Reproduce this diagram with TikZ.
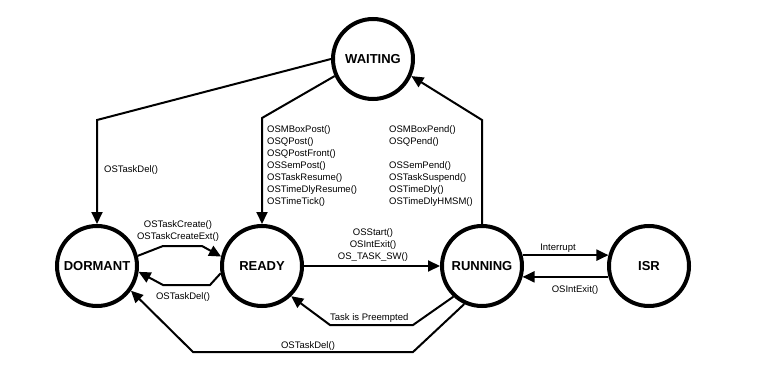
\documentclass[tikz,border=0pt]{standalone}
\usepackage{fontspec}
\setmainfont{Liberation Sans}
\usetikzlibrary{arrows.meta, positioning}

\begin{document}
\begin{tikzpicture}[
    x=1pt, y=-1pt,
    node distance=81pt and 81pt,
    keadaan/.style={draw, circle, line width=4pt, minimum size=80pt, inner sep=0pt,
                    font=\fontsize{13}{15}\selectfont\bfseries},
    panah/.style={-{Triangle[length=12pt, width=11pt]}, line width=2pt},
    teks/.style={inner sep=0pt, align=left, font=\fontsize{9.5}{12}\selectfont}
  ]
    \useasboundingbox (0,0) rectangle (773,366);
    \node[keadaan] (dormant) at (97,266) {DORMANT};
    \node[keadaan, right=of dormant] (ready) {READY};
    \node[keadaan, right=136pt of ready] (running) {RUNNING};
    \node[keadaan, right=83pt of running] (isr) {ISR};
    \node[keadaan] (waiting) at (373,59) {WAITING};
    % label
    \node[teks, anchor=west] (delw) at (104,170) {OSTaskDel()};
    \node[teks, anchor=north west] (post) at (267,125)
      {OSMBoxPost()\\OSQPost()\\OSQPostFront()\\OSSemPost()\\OSTaskResume()\\OSTimeDlyResume()\\OSTimeTick()};
    \node[teks, anchor=north west] (pend) at (389,125)
      {OSMBoxPend()\\OSQPend()\\[12pt]OSSemPend()\\OSTaskSuspend()\\OSTimeDly()\\OSTimeDlyHMSM()};
    \node[teks, align=center] (create) at (178,231.5) {OSTaskCreate()\\OSTaskCreateExt()};
    \node[teks] (delr) at (183,297) {OSTaskDel()};
    \node[teks, align=center] (start) at (373,245.5) {OSStart()\\OSIntExit()\\OS\_TASK\_SW()};
    \node[teks, anchor=west] (preempt) at (330,318) {Task is Preempted};
    \node[teks] (delb) at (308,346) {OSTaskDel()};
    \node[teks] (intr) at (558,248) {Interrupt};
    \node[teks] (iexit) at (575,290) {OSIntExit()};
    % panah
    \draw[panah] (waiting.west) -- (dormant.north |- 0,120) -- (dormant.north);
    \draw[panah] (waiting.204) -- (ready.north |- 0,118) -- (ready.north);
    \draw[panah] (running.north) -- (running.north |- 0,120) -- (waiting.-24);
    \draw[panah] (dormant.14) -- (163,246) -- (202,246) -- (ready.167);
    \draw[panah] (ready.190) -- (210,285) -- (163,285) -- (dormant.-8);
    \draw[panah] (ready.east) -- (running.west);
    \draw[panah] (running.227) -- (413,325) -- (330,325) -- (ready.-46);
    \draw[panah] (running.245) -- (413,352) -- (193,352) -- (dormant.-36);
    \draw[panah] (running.15) -- (isr.165);
    \draw[panah] (isr.195) -- (running.-15);
  \end{tikzpicture}
\end{document}
